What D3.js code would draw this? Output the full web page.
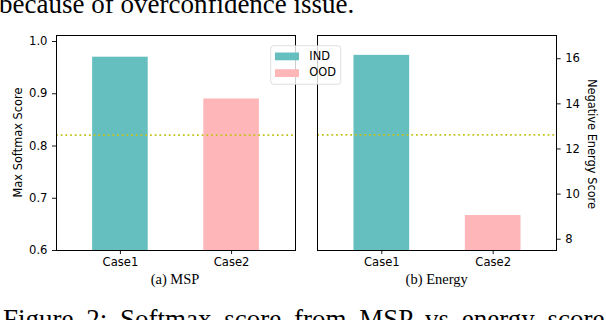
<!doctype html>
<html>
<head>
  <script src="https://d3js.org/d3.v7.min.js"></script>
  <style>
  body { margin: 0; background: #fff; }
  svg { display: block; }
  .tick text { font: 11.6px "DejaVu Sans", sans-serif; fill: #000; }
  .tick line { stroke: #000; stroke-width: 0.9; }
  .domain { display: none; }
  .frame { fill: none; stroke: #000; stroke-width: 1; shape-rendering: crispEdges; }
  .label { font: 11.4px "DejaVu Sans", sans-serif; fill: #000; }
  .serif { font-family: "Liberation Serif", "Times New Roman", serif; fill: #000; }
  </style>
</head>
<body>
<script>
// values
var cases = ["Case1", "Case2"];
var series = ["IND", "OOD"];
var mspValues = [0.97, 0.89];
var energyValues = [16.15, 9.05];
var mspThreshold = 0.82;
var energyThreshold = 12.6;
var mspTicks = [0.6, 0.7, 0.8, 0.9, 1.0];
var energyTicks = [8, 10, 12, 14, 16];
var colours = ["#66bfbf", "#ffb6b9"];

var width = 606, height = 320;
var top_ = 35, bottom = 250;

var svg = d3.select("body").append("svg")
    .attr("width", width)
    .attr("height", height);

// text around the figure (from the paper page), cut at the edges as in the source
svg.append("text")
    .attr("class", "serif")
    .attr("x", -1)
    .attr("y", 13)
    .style("font-size", "27px")
    .text("because of overconfidence issue.");

svg.append("text")
    .attr("class", "serif")
    .attr("x", 3)
    .attr("y", 328)
    .style("font-size", "27px")
    .style("word-spacing", "6px")
    .text("Figure 2: Softmax score from MSP vs energy score");

var panels = [
  {left: 56, right: 295, domain: [0.6, 1.0115], values: mspValues, threshold: mspThreshold,
   ticks: mspTicks, fmt: d3.format(".1f"), side: "left", label: "Max Softmax Score", caption: "(a) MSP"},
  {left: 317.3, right: 556.7, domain: [7.5, 17.03], values: energyValues, threshold: energyThreshold,
   ticks: energyTicks, fmt: d3.format("d"), side: "right", label: "Negative Energy Score", caption: "(b) Energy"}
];

panels.forEach(function(p) {
  var x = d3.scaleLinear()
      .domain([-0.575, 1.575])
      .range([p.left, p.right]);

  var y = d3.scaleLinear()
      .domain(p.domain)
      .range([bottom, top_]);

  var g = svg.append("g");

  g.selectAll("rect.bar")
      .data(p.values)
    .enter().append("rect")
      .attr("class", "bar")
      .attr("x", function(d, i) { return x(i - 0.25); })
      .attr("width", function() { return x(0.25) - x(-0.25); })
      .attr("y", function(d) { return y(d); })
      .attr("height", function(d) { return bottom - y(d); })
      .style("fill", function(d, i) { return colours[i]; });

  // threshold line
  g.append("line")
      .attr("x1", p.left)
      .attr("x2", p.right)
      .attr("y1", y(p.threshold))
      .attr("y2", y(p.threshold))
      .style("stroke", "#c4c41a")
      .style("stroke-width", 1.8)
      .style("stroke-dasharray", "1.8,2.9");

  var xAxis = d3.axisBottom(d3.scalePoint().domain(cases).range([x(0), x(1)]))
      .tickSize(4)
      .tickPadding(3.5);

  g.append("g")
      .attr("transform", "translate(0," + bottom + ")")
      .call(xAxis);

  var yAxis = (p.side === "left" ? d3.axisLeft(y) : d3.axisRight(y))
      .tickValues(p.ticks)
      .tickFormat(p.fmt)
      .tickSize(4)
      .tickPadding(4.5);

  g.append("g")
      .attr("transform", "translate(" + (p.side === "left" ? p.left : p.right) + ",0)")
      .call(yAxis);

  g.append("rect")
      .attr("class", "frame")
      .attr("x", p.left)
      .attr("y", top_)
      .attr("width", p.right - p.left)
      .attr("height", bottom - top_);

  if (p.side === "left") {
    g.append("text")
        .attr("class", "label")
        .attr("text-anchor", "middle")
        .attr("transform", "translate(22," + (top_ + bottom) / 2 + ") rotate(-90)")
        .text(p.label);
  } else {
    g.append("text")
        .attr("class", "label")
        .attr("text-anchor", "middle")
        .attr("transform", "translate(588," + 144 + ") rotate(90)")
        .text(p.label);
  }

  g.append("text")
      .attr("class", "serif")
      .attr("text-anchor", "middle")
      .attr("x", p.side === "left" ? 175 : 436.7)
      .attr("y", 284)
      .style("font-size", "14.5px")
      .text(p.caption);
});

// legend
var legend = svg.append("g");

legend.append("rect")
    .attr("x", 270.7)
    .attr("y", 45.7)
    .attr("width", 70)
    .attr("height", 38.6)
    .attr("rx", 3)
    .style("fill", "#fff")
    .style("fill-opacity", 0.8)
    .style("stroke", "#d6d6d6")
    .style("stroke-width", 0.8);

var item = legend.selectAll(".item")
    .data(series)
  .enter().append("g")
    .attr("class", "item")
    .attr("transform", function(d, i) { return "translate(0," + i * 16.7 + ")"; });

item.append("rect")
    .attr("x", 275)
    .attr("y", 52.5)
    .attr("width", 24)
    .attr("height", 7.8)
    .style("fill", function(d, i) { return colours[i]; });

item.append("text")
    .attr("class", "label")
    .attr("x", 309.3)
    .attr("y", 59.8)
    .text(function(d) { return d; });
</script>
</body>
</html>
